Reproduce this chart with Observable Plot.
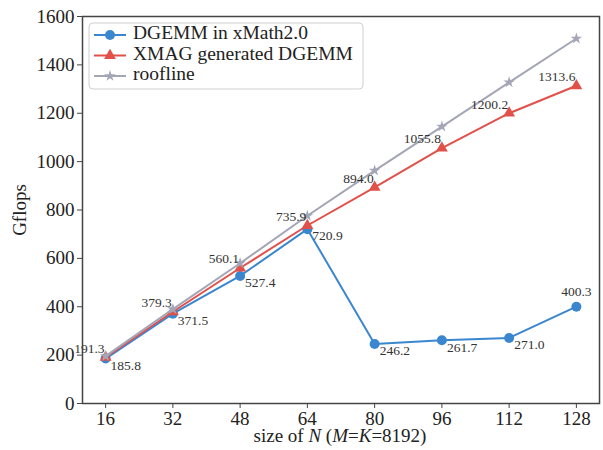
<!DOCTYPE html>
<html>
<head>
<meta charset="utf-8">
<script src="https://cdn.jsdelivr.net/npm/d3@7"></script>
<script src="https://cdn.jsdelivr.net/npm/@observablehq/plot@0.6"></script>
<style>
  html, body { margin: 0; padding: 0; background: #fff; }
  #chart { position: relative; width: 603px; height: 450px; }
  #chart svg text { font-family: 'Liberation Serif', 'Times New Roman', serif; }
</style>
</head>
<body>
<div id="chart"></div>
<script>
// Matrix size N (with M = K = 8192)
const sizes = [16, 32, 48, 64, 80, 96, 112, 128];
// Measured throughput, Gflops
const xmathGflops = [185.8, 371.5, 527.4, 720.9, 246.2, 261.7, 271.0, 400.3];
const xmagGflops = [191.3, 379.3, 560.1, 735.9, 894.0, 1055.8, 1200.2, 1313.6];
const rooflineGflops = [196, 390, 580, 776, 963, 1145, 1328, 1509];
// Axis ticks
const xTicks = [16, 32, 48, 64, 80, 96, 112, 128];
const yTicks = [0, 200, 400, 600, 800, 1000, 1200, 1400, 1600];
const seriesNames = ["DGEMM in xMath2.0", "XMAG generated DGEMM", "roofline"];

const BLUE = "#3b87cf";
const RED = "#e2504a";
const GRAY = "#a4a6b6";
const SERIF = "'Liberation Serif', 'Times New Roman', serif";

const toRows = (values) => sizes.map((n, i) => ({n, v: values[i], i}));
const xmath = toRows(xmathGflops);
const xmag = toRows(xmagGflops);
const roof = toRows(rooflineGflops);

const W = 603, H = 450;
const fmt = d => d.toFixed(1);

const plot = Plot.plot({
  width: W,
  height: H,
  marginLeft: 82,
  marginRight: 4,
  marginTop: 16,
  marginBottom: 47,
  style: {fontFamily: SERIF, fontSize: "19px", color: "#222", background: "#fff"},
  x: {type: "linear", domain: [10.5, 133.5]},
  y: {domain: [0, 1600]},
  marks: [
    Plot.axisX({ticks: xTicks, tickFormat: d3.format("d"), tickSize: 5, tickPadding: 3, label: null,
      fontSize: 19, fontFamily: SERIF, stroke: "#444"}),
    Plot.axisY({ticks: yTicks, tickFormat: d3.format("d"), tickSize: 5, tickPadding: 3, label: null,
      fontSize: 19, fontFamily: SERIF, stroke: "#444"}),
    // DGEMM in xMath2.0
    Plot.line(xmath, {x: "n", y: "v", stroke: BLUE, strokeWidth: 2}),
    Plot.dot(xmath, {x: "n", y: "v", symbol: "circle", r: 5, fill: BLUE}),
    // XMAG generated DGEMM
    Plot.line(xmag, {x: "n", y: "v", stroke: RED, strokeWidth: 2}),
    Plot.dot(xmag, {x: "n", y: "v", symbol: "triangle", r: 4.4, fill: RED}),
    // roofline
    Plot.line(roof, {x: "n", y: "v", stroke: GRAY, strokeWidth: 2}),
    Plot.dot(roof, {x: "n", y: "v", symbol: "star", r: 3.6, fill: GRAY}),
    // value labels
    Plot.text(xmag, {x: "n", y: "v", text: d => fmt(d.v), textAnchor: "end", dx: -1, dy: -9,
      fontSize: 13.5, fontFamily: SERIF, fill: "#333"}),
    Plot.text(xmath.filter(d => d.i < sizes.length - 1), {x: "n", y: "v", text: d => fmt(d.v),
      textAnchor: "start", dx: 5, dy: 7, fontSize: 13.5, fontFamily: SERIF, fill: "#333"}),
    Plot.text(xmath.filter(d => d.i === sizes.length - 1), {x: "n", y: "v", text: d => fmt(d.v),
      textAnchor: "middle", dy: -15, fontSize: 13.5, fontFamily: SERIF, fill: "#333"}),
    Plot.frame({stroke: "#444", strokeWidth: 1.5})
  ]
});

document.getElementById("chart").appendChild(plot);

// Axis titles
const svg = d3.select(plot);
svg.append("text")
  .attr("transform", "translate(22,210) rotate(-90)")
  .attr("text-anchor", "middle")
  .attr("dominant-baseline", "middle")
  .attr("font-family", SERIF).attr("font-size", 19).attr("fill", "#222")
  .text("Gflops");

const xt = svg.append("text")
  .attr("x", 340).attr("y", 442)
  .attr("text-anchor", "middle")
  .attr("font-family", SERIF).attr("font-size", 19).attr("fill", "#222");
[["size of ", false], ["N", true], [" (", false], ["M", true], ["=", false], ["K", true], ["=8192)", false]]
  .forEach(([s, it]) => {
    xt.append("tspan").attr("font-family", SERIF)
      .attr("font-style", it ? "italic" : "normal").text(s);
  });

// Legend
const lg = svg.append("g");
lg.append("rect")
  .attr("x", 89).attr("y", 23).attr("width", 274).attr("height", 66)
  .attr("rx", 4).attr("fill", "#fff").attr("fill-opacity", 0.85)
  .attr("stroke", "#cfcfcf").attr("stroke-width", 1);
const legendItems = [
  {name: seriesNames[0], color: BLUE, sym: d3.symbolCircle, size: Math.PI * 25},
  {name: seriesNames[1], color: RED, sym: d3.symbolTriangle, size: Math.PI * 4.4 * 4.4},
  {name: seriesNames[2], color: GRAY, sym: d3.symbolStar, size: Math.PI * 3.6 * 3.6}
];
legendItems.forEach((it, k) => {
  const y = 35 + k * 20.5;
  lg.append("line").attr("x1", 94).attr("x2", 126).attr("y1", y).attr("y2", y)
    .attr("stroke", it.color).attr("stroke-width", 2);
  lg.append("path").attr("d", d3.symbol(it.sym, it.size)())
    .attr("transform", `translate(110,${y})`).attr("fill", it.color);
  lg.append("text").attr("x", 133).attr("y", y)
    .attr("text-anchor", "start")
    .attr("dominant-baseline", "middle")
    .attr("font-family", SERIF).attr("font-size", 19.5).attr("fill", "#222")
    .text(it.name);
});
</script>
</body>
</html>
